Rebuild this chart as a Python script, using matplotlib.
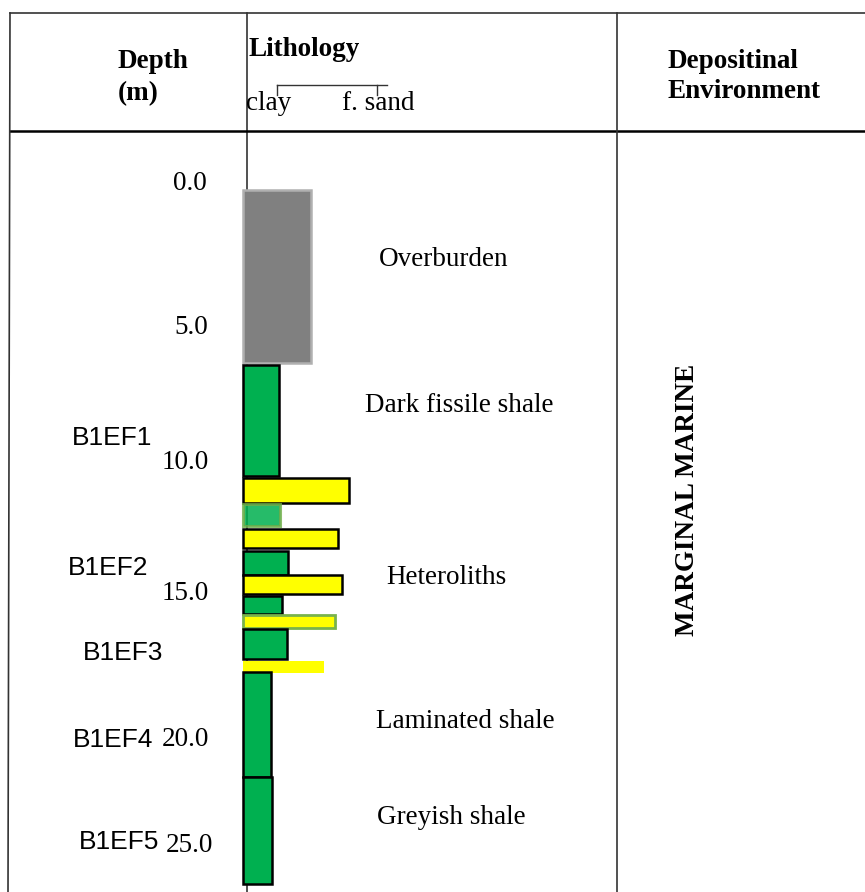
import matplotlib
matplotlib.use("Agg")
import matplotlib.pyplot as plt

# layers: top / base depth (m), grain-size bar length, lithology type
tops = [0.0, 6.55, 10.79, 11.76, 12.69, 13.51, 14.42, 15.21, 15.92, 16.44, 17.64, 18.05, 21.98]
bases = [6.5, 10.71, 11.72, 12.58, 13.40, 14.42, 15.13, 15.88, 16.40, 17.57, 18.08, 21.98, 25.98]
grain = [0.685, 0.365, 1.065, 0.375, 0.955, 0.455, 0.995, 0.395, 0.925, 0.445, 0.815, 0.285, 0.295]
litho = ["overburden", "shale", "sand", "shale_faint", "sand", "shale", "sand",
         "shale", "sand_green", "shale", "sand_plain", "shale", "shale"]

depth_labels = ["0.0", "5.0", "10.0", "15.0", "20.0", "25.0"]
samples = ["B1EF1", "B1EF2", "B1EF3", "B1EF4", "B1EF5"]
units = ["Overburden", "Dark fissile shale", "Heteroliths", "Laminated shale", "Greyish shale"]
environment = "MARGINAL MARINE"

styles = {
    "overburden": dict(color="#808080", edgecolor="#b0b0b0", linewidth=1.8),
    "shale": dict(color="#00b050", edgecolor="black", linewidth=1.8),
    "shale_faint": dict(facecolor=(0.0, 0.69, 0.31, 0.85), edgecolor=(0.44, 0.68, 0.28, 0.8),
                        linewidth=2.2),
    "sand": dict(color="#ffff00", edgecolor="black", linewidth=1.8),
    "sand_green": dict(color="#ffff00", edgecolor="#78b24c", linewidth=2.0),
    "sand_plain": dict(color="#ffff00", edgecolor="none", linewidth=0),
}

W, H = 865, 892
fig = plt.figure(figsize=(W / 100, H / 100), dpi=100)

# one axes over the whole page: x = grain size units, y = depth (m)
ax = fig.add_axes([0, 0, 1, 1])
ax.set_xlim(-2.425, 6.225)
ax.set_ylim(26.27, -7.097)
ax.axis("off")

def fx(x):
    return x / W

def fy(y):
    return 1 - y / H

serif = "Liberation Serif"
fs = 19.5
tf = fig.transFigure

# table frame
ax.plot([fx(10), fx(W)], [fy(13), fy(13)], color="#333333", lw=1.2, transform=tf)
ax.plot([fx(10), fx(W)], [fy(131), fy(131)], color="black", lw=1.8, transform=tf)
ax.plot([fx(10), fx(8)], [fy(13), fy(H)], color="#333333", lw=1.2, transform=tf)
ax.plot([fx(247), fx(247)], [fy(13), fy(H)], color="#333333", lw=1.2, transform=tf, zorder=0)
ax.plot([fx(617), fx(617)], [fy(13), fy(H)], color="#333333", lw=1.2, transform=tf)

# headers
ax.text(fx(118), fy(61), "Depth", fontfamily=serif, fontweight="bold", fontsize=fs,
        transform=tf, va="center", ha="left")
ax.text(fx(118), fy(94), "(m)", fontfamily=serif, fontweight="bold", fontsize=fs,
        transform=tf, va="center", ha="left")
ax.text(fx(248), fy(49), "Lithology", fontfamily=serif, fontweight="bold", fontsize=fs,
        transform=tf, va="center", ha="left")
ax.text(fx(668), fy(61), "Depositinal", fontfamily=serif, fontweight="bold", fontsize=fs,
        transform=tf, va="center", ha="left")
ax.text(fx(668), fy(91), "Environment", fontfamily=serif, fontweight="bold", fontsize=fs,
        transform=tf, va="center", ha="left")

# grain-size scale
ax.plot([fx(277), fx(387)], [fy(85), fy(85)], color="#333333", lw=1, transform=tf)
for x in (277, 377):
    ax.plot([fx(x), fx(x)], [fy(85), fy(95)], color="#333333", lw=1, transform=tf)
ax.text(fx(246), fy(104), "clay", fontfamily=serif, fontsize=fs, transform=tf,
        va="center", ha="left")
ax.text(fx(342), fy(104), "f. sand", fontfamily=serif, fontsize=fs, transform=tf,
        va="center", ha="left")

# lithology bars
for t, b, g, k in zip(tops, bases, grain, litho):
    ax.barh((t + b) / 2, g, height=b - t, left=0, zorder=3, **styles[k])

# depth labels
depth_y = [184, 327, 462, 594, 740, 845]
depth_x = [207, 208, 209, 209, 209, 213]
for s, x, y in zip(depth_labels, depth_x, depth_y):
    ax.text(fx(x), fy(y), s, fontfamily=serif, fontsize=fs, transform=tf,
            va="center", ha="right")

# sample names
sample_x = [72, 68, 83, 73, 79]
sample_y = [438, 568, 653, 740, 842]
for s, x, y in zip(samples, sample_x, sample_y):
    ax.text(fx(x), fy(y), s, fontfamily="Liberation Sans", fontsize=19, transform=tf,
            va="center", ha="left")

# unit descriptions
unit_x = [379, 365, 386, 376, 377]
unit_y = [260, 406, 578, 722, 817]
for s, x, y in zip(units, unit_x, unit_y):
    ax.text(fx(x), fy(y), s, fontfamily=serif, fontsize=fs, transform=tf,
            va="center", ha="left")

ax.text(fx(688), fy(500), environment, fontfamily=serif, fontweight="bold", fontsize=fs,
        rotation=90, transform=tf, va="center", ha="center")

fig.savefig("out.png", dpi=100)
